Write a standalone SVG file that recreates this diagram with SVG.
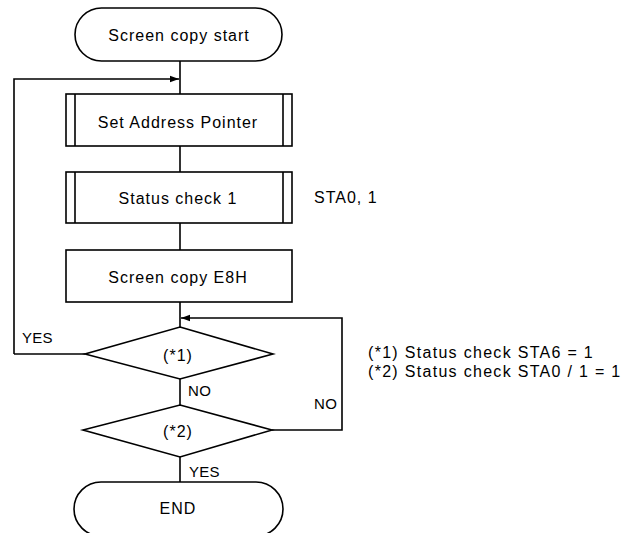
<svg xmlns="http://www.w3.org/2000/svg" width="623" height="533" viewBox="0 0 623 533">
<style>
.s{fill:none;stroke:#000;stroke-width:1.6}
.b{fill:#fff;stroke:#000;stroke-width:1.6}
.t{font-family:"Liberation Sans",Arial,sans-serif;font-size:16px;letter-spacing:1px;fill:#000}
.m{text-anchor:middle}
.l{font-family:"Liberation Sans",Arial,sans-serif;font-size:15px;letter-spacing:0.3px;fill:#000}
</style>
<defs>
<marker id="ah" markerWidth="10" markerHeight="8" refX="9" refY="4" orient="auto" markerUnits="userSpaceOnUse">
<path d="M0,0.8 L9,4 L0,7.2 Z" fill="#000"/>
</marker>
</defs>
<g id="connectors">
<path class="s" d="M180,61 V94"/>
<path class="s" d="M14,354 V79 H179" marker-end="url(#ah)"/>
<path class="s" d="M180,146 V172"/>
<path class="s" d="M180,223 V250"/>
<path class="s" d="M180,302 V327"/>
<path class="s" d="M272,430 H342 V318 H181" marker-end="url(#ah)"/>
<path class="s" d="M85,354 H14"/>
<path class="s" d="M180,379 V405"/>
<path class="s" d="M180,457 V482"/>
<text class="l" x="22" y="343">YES</text>
<text class="l" x="188" y="396">NO</text>
<text class="l" x="314" y="409">NO</text>
<text class="l" x="189" y="477">YES</text>
</g>
<g id="start">
<rect class="b" x="75" y="8" width="207" height="53" rx="26.5"/>
<text class="t m" x="179" y="41">Screen copy start</text>
</g>
<g id="setAddressPointer">
<rect class="b" x="66" y="94" width="226" height="52"/>
<path class="s" d="M75,94 V146 M283,94 V146"/>
<text class="t m" x="178" y="128">Set Address Pointer</text>
</g>
<g id="statusCheck1">
<rect class="b" x="66" y="172" width="226" height="51"/>
<path class="s" d="M75,172 V223 M283,172 V223"/>
<text class="t m" x="178" y="204">Status check 1</text>
<text class="t" x="314" y="203">STA0, 1</text>
</g>
<g id="screenCopyE8H">
<rect class="b" x="66" y="250" width="226" height="52"/>
<text class="t m" x="178" y="283">Screen copy E8H</text>
</g>
<g id="decision1">
<polygon class="b" points="180,327 273,354 180,379 85,354"/>
<text class="t m" x="178" y="361">(*1)</text>
</g>
<g id="decision2">
<polygon class="b" points="180,405 272,430 180,457 83,430"/>
<text class="t m" x="178" y="437">(*2)</text>
</g>
<g id="end">
<rect class="b" x="74" y="482" width="209" height="54" rx="27"/>
<text class="t m" x="178" y="514">END</text>
</g>
<g id="legend">
<text class="t" x="368" y="358" style="letter-spacing:1.3px">(*1) Status check STA6 = 1</text>
<text class="t" x="368" y="377" style="letter-spacing:1.3px">(*2) Status check STA0 / 1 = 1</text>
</g>
</svg>
